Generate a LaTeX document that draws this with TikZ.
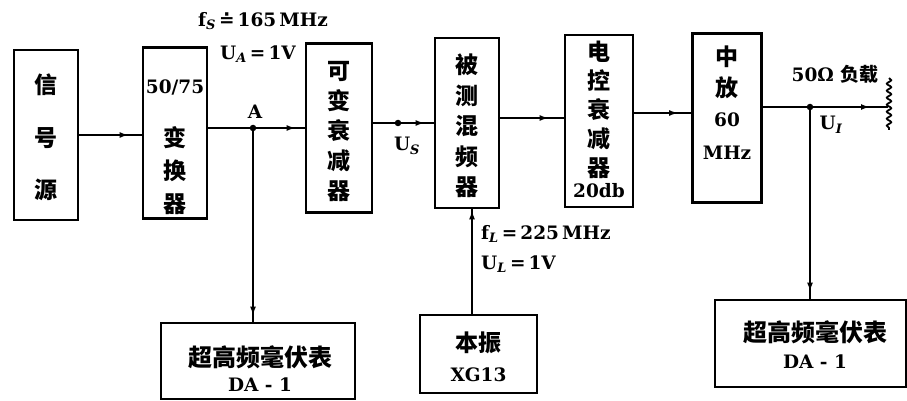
\documentclass[tikz,border=0pt]{standalone}
\usepackage{fontspec}
\setmainfont{DejaVu Serif}
\newfontfamily\cjk{Noto Sans CJK SC}
\newfontfamily\djs{DejaVu Sans}
\newcommand{\subx}[1]{\textsubscript{\itshape #1}}
\usetikzlibrary{arrows.meta,decorations.markings,decorations.pathmorphing}
\begin{document}
\begin{tikzpicture}[x=1pt,y=-1pt,line width=2.4pt,
  box/.style={draw,line width=2.8pt,inner sep=0pt},
  cn/.style={font=\cjk\bfseries\fontsize{23}{30}\selectfont,align=center,inner sep=0pt},
  lt/.style={font=\bfseries\fontsize{18.5}{22}\selectfont,align=center,inner sep=0pt},
  arr/.style={postaction={decorate},decoration={markings,mark=at position #1 with {\arrow{Latex[length=9pt,width=6pt]}}}},
  dot/.style={circle,fill,inner sep=0pt,minimum size=6.5pt}]
\useasboundingbox (0,0) rectangle (907,401);
% boxes
\node[box,minimum width=64pt,minimum height=170pt] (b1) at (46,135) {};
\node[box,minimum width=64pt,minimum height=171pt] (b2) at (175,133) {};
\node[box,minimum width=66pt,minimum height=169pt] (b3) at (339,128) {};
\node[box,minimum width=64pt,minimum height=170pt] (b4) at (467,123) {};
\node[box,minimum width=68pt,minimum height=172pt] (b5) at (599,121) {};
\node[box,minimum width=69pt,minimum height=169pt] (b6) at (727,118) {};
\node[box,minimum width=194pt,minimum height=76pt] (m1) at (258,361) {};
\node[box,minimum width=117pt,minimum height=78pt] (lo) at (478.5,354) {};
\node[box,minimum width=191pt,minimum height=87pt] (m2) at (810.5,343.5) {};
% box texts
\node[cn,font=\cjk\bfseries\fontsize{23}{52.5}\selectfont] (t1) at (46,137.5) {信\\号\\源};
\node[lt] (t2a) at (175,87) {50/75};
\node[cn,font=\cjk\bfseries\fontsize{23}{33}\selectfont] (t2b) at (175,171) {变\\换\\器};
\node[cn] (t3) at (339,132) {可\\变\\衰\\减\\器};
\node[cn,font=\cjk\bfseries\fontsize{23}{30.5}\selectfont] (t4) at (467,126) {被\\测\\混\\频\\器};
\node[cn,font=\cjk\bfseries\fontsize{23}{29}\selectfont] (t5a) at (599,110) {电\\控\\衰\\减\\器};
\node[lt] (t5b) at (599,191) {20db};
\node[cn,font=\cjk\bfseries\fontsize{23}{31}\selectfont] (t6a) at (727,72.5) {中\\放};
\node[lt] (t6b) at (727,120) {60};
\node[lt] (t6c) at (727,153) {MHz};
\node[cn,font=\cjk\bfseries\fontsize{24}{28}\selectfont] (tm1a) at (260,357) {超高频毫伏表};
\node[lt] (tm1b) at (260,385) {DA - 1};
\node[cn] (tloa) at (478.5,343) {本振};
\node[lt] (tlob) at (478.5,375) {XG13};
\node[cn,font=\cjk\bfseries\fontsize{24}{28}\selectfont] (tm2a) at (815,332) {超高频毫伏表};
\node[lt] (tm2b) at (815,362) {DA - 1};
% coordinates
\coordinate (A) at (253,128);
\coordinate (US) at (398,123);
\coordinate (UI) at (810,107);
\coordinate (load) at (888,107);
\coordinate (lox) at (472,0);
% connectors
\draw[arr=-13pt] (b1.east) -- (b1.east -| b2.west);
\draw (b2.east |- A) -- (A);
\draw[arr=-9pt] (A) -- (A -| b3.west);
\draw[arr=-6pt] (A) -- (A |- m1.north);
\draw (b3.east |- US) -- (US);
\draw[arr=-9pt] (US) -- (US -| b4.west);
\draw[arr=-15pt] (b4.east |- 0,118) -- (b5.west |- 0,118);
\draw[arr=-13pt] (b5.east |- 0,113) -- (b6.west |- 0,113);
\draw (b6.east |- UI) -- (UI);
\draw[arr=-18pt] (UI) -- (load);
\draw[arr=-7pt] (UI) -- (UI |- m2.north);
\draw[arr=-1pt] (lo.north -| lox) -- (b4.south -| lox);
\node[dot] (dA) at (A) {};
\node[dot] (dUS) at (US) {};
\node[dot] (dUI) at (UI) {};
\draw[line width=1.8pt,decorate,decoration={snake,amplitude=2.2pt,segment length=7pt}] (889,78) -- (889,130);
% labels
\node[lt] (lfs) at (263,21) {f\subx{S}\,{\djs\bfseries ≐}\,165\,MHz};
\node[lt] (lua) at (258,54) {U\subx{A}\,=\,1V};
\node[lt] (lA) at (255,112) {A};
\node[lt] (lus) at (407,146) {U\subx{S}};
\node[lt] (lui) at (831,125) {U\subx{I}};
\node[lt] (lload) at (835,74) {50Ω~{\cjk\bfseries\fontsize{19}{22}\selectfont 负载}};
\node[lt,anchor=west] (lfl) at (480,234) {f\subx{L}\,=\,225\,MHz};
\node[lt,anchor=west] (lul) at (480,264) {U\subx{L}\,=\,1V};
\end{tikzpicture}
\end{document}
